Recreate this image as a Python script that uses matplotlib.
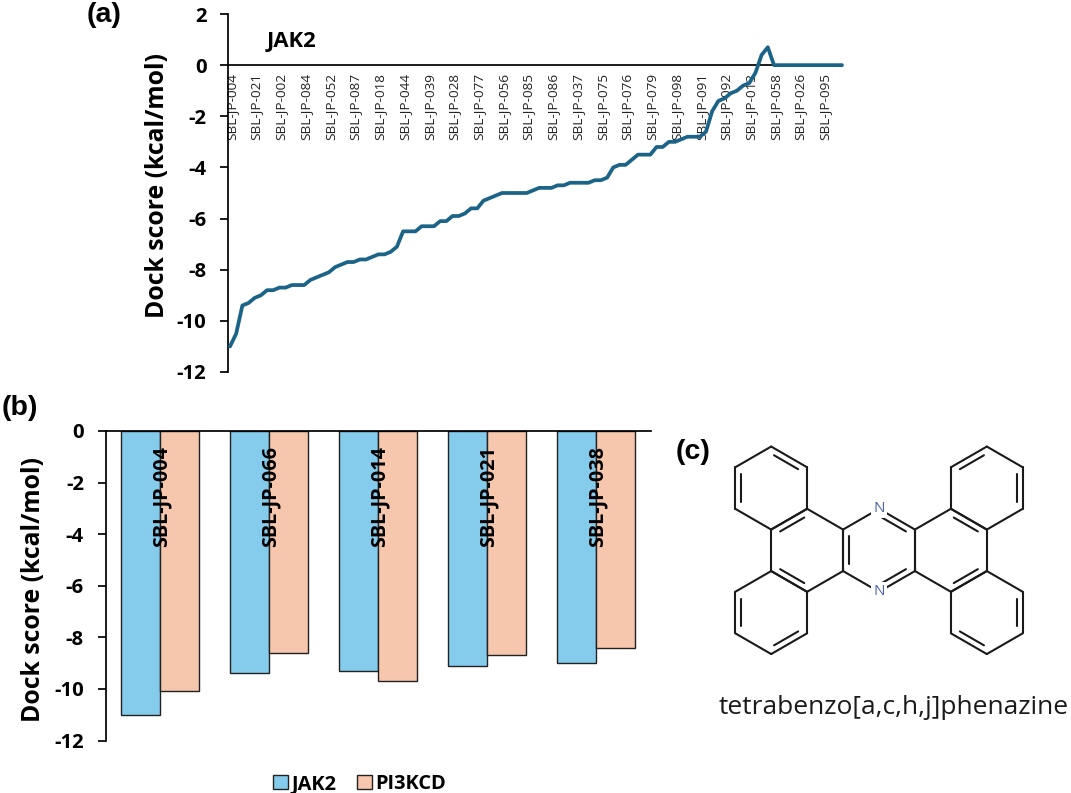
import numpy as np
import matplotlib
matplotlib.use("Agg")
import matplotlib.pyplot as plt
from matplotlib.transforms import ScaledTranslation

plt.rcParams['font.family'] = ['Open Sans', 'DejaVu Sans']
plt.rcParams['axes.unicode_minus'] = False
plt.rcParams['axes.linewidth'] = 1.25

W, H = 1071, 793

# panel (a) - dock score of every compound against JAK2
jak2_scores = [
    -11.0, -10.5, -9.4, -9.3, -9.1, -9.0, -8.8, -8.8, -8.7, -8.7,
    -8.6, -8.6, -8.6, -8.4, -8.3, -8.2, -8.1, -7.9, -7.8, -7.7,
    -7.7, -7.6, -7.6, -7.5, -7.4, -7.4, -7.3, -7.1, -6.5, -6.5,
    -6.5, -6.3, -6.3, -6.3, -6.1, -6.1, -5.9, -5.9, -5.8, -5.6,
    -5.6, -5.3, -5.2, -5.1, -5.0, -5.0, -5.0, -5.0, -5.0, -4.9,
    -4.8, -4.8, -4.8, -4.7, -4.7, -4.6, -4.6, -4.6, -4.6, -4.5,
    -4.5, -4.4, -4.0, -3.9, -3.9, -3.7, -3.5, -3.5, -3.5, -3.2,
    -3.2, -3.0, -3.0, -2.9, -2.8, -2.8, -2.8, -2.6, -1.8, -1.4,
    -1.3, -1.1, -1.0, -0.8, -0.7, -0.3, 0.4, 0.7, 0.0, 0.0,
    0.0, 0.0, 0.0, 0.0, 0.0, 0.0, 0.0, 0.0, 0.0, 0.0,
]
compound_labels = [
    'SBL-JP-004', 'SBL-JP-021', 'SBL-JP-002', 'SBL-JP-084', 'SBL-JP-052',
    'SBL-JP-087', 'SBL-JP-018', 'SBL-JP-044', 'SBL-JP-039', 'SBL-JP-028',
    'SBL-JP-077', 'SBL-JP-056', 'SBL-JP-085', 'SBL-JP-086', 'SBL-JP-037',
    'SBL-JP-075', 'SBL-JP-076', 'SBL-JP-079', 'SBL-JP-098', 'SBL-JP-091',
    'SBL-JP-092', 'SBL-JP-013', 'SBL-JP-058', 'SBL-JP-026', 'SBL-JP-095',
]

# panel (b) - top five compounds
top_compounds = ['SBL-JP-004', 'SBL-JP-066', 'SBL-JP-014', 'SBL-JP-021', 'SBL-JP-038']
top_jak2 = [-11.0, -9.4, -9.3, -9.1, -9.0]
top_pi3kcd = [-10.1, -8.6, -9.7, -8.7, -8.4]


def px_axes(fig, left, top, right, bottom):
    # axes placed from pixel edges of the image
    return fig.add_axes([left / W, 1 - bottom / H, (right - left) / W, (bottom - top) / H])


fig = plt.figure(figsize=(W / 100, H / 100), dpi=100)
# rotated labels sit a little left of the tick otherwise
nudge = ScaledTranslation(1.5 / 100, 0, fig.dpi_scale_trans)

# (a) line chart
step = 6.18
ax = px_axes(fig, 228, 14, 842, 372)
# the spine has to move first, moving it resets the tick labels
ax.spines['top'].set_visible(False)
ax.spines['right'].set_visible(False)
ax.spines['bottom'].set_position(('data', 0))
ax.plot(range(len(jak2_scores)), jak2_scores, color='#1b6488', lw=2.7,
        solid_capstyle='round', solid_joinstyle='round', clip_on=False, zorder=3)
ax.set_xlim(-2 / step, 99)
ax.set_ylim(-12, 2)
ax.set_yticks(np.arange(-12, 3, 2))
ax.set_xticks(np.arange(0, 100, 4))
ax.set_xticklabels(compound_labels, rotation=90, fontsize=9.7, va='top', ha='center', color='#222222')
ax.tick_params(axis='x', length=0, pad=5.5)
ax.tick_params(axis='y', length=6, width=1.25, labelsize=14.6, pad=9.5)
for lab in ax.get_yticklabels():
    lab.set_fontweight('bold')
for lab in ax.get_xticklabels():
    lab.set_transform(lab.get_transform() + nudge)
ax.patch.set_alpha(0)

# (b) bar chart
ax2 = px_axes(fig, 105.5, 431, 650.5, 740.5)
ax2.spines['top'].set_visible(False)
ax2.spines['right'].set_visible(False)
ax2.spines['bottom'].set_position(('data', 0))
x = np.arange(len(top_compounds))
width = 0.36
bars1 = ax2.bar(x - width / 2, top_jak2, width, color='#85cbec', edgecolor='#222222', lw=1, label='JAK2')
bars2 = ax2.bar(x + width / 2, top_pi3kcd, width, color='#f6c6ad', edgecolor='#222222', lw=1, label='PI3KCD')
ax2.set_xlim(-0.5, 4.5)
ax2.set_ylim(-12, 0)
ax2.set_yticks(np.arange(-12, 1, 2))
ax2.set_xticks(x)
ax2.set_xticklabels(top_compounds, rotation=90, fontsize=14.2, fontweight='bold', va='top', ha='center')
ax2.tick_params(axis='x', length=0, pad=11)
ax2.tick_params(axis='y', length=6, width=1.25, labelsize=14.6, pad=9.5)
for lab in ax2.get_yticklabels():
    lab.set_fontweight('bold')
for lab in ax2.get_xticklabels():
    lab.set_transform(lab.get_transform() + nudge)
ax2.patch.set_alpha(0)

fig.legend(handles=[bars1, bars2], loc='center left', bbox_to_anchor=(273 / W, 1 - 784 / H), ncol=2,
           frameon=False, prop={'weight': 'bold', 'size': 14.4}, handlelength=0.75, handleheight=0.75,
           handletextpad=0.15, columnspacing=1.05, borderpad=0, borderaxespad=0)

# overlay in pixel coordinates for the panel letters and the structure
ov = fig.add_axes([0, 0, 1, 1])
ov.set_xlim(0, W)
ov.set_ylim(H, 0)
ov.axis('off')
ov.patch.set_alpha(0)

ov.text(157, 186, 'Dock score (kcal/mol)', rotation=90, ha='center', va='center', fontsize=17.8, fontweight='bold')
ov.text(34, 589, 'Dock score (kcal/mol)', rotation=90, ha='center', va='center', fontsize=17.8, fontweight='bold')
ov.text(267, 41, 'JAK2', ha='left', va='center', fontsize=15.8, fontweight='bold')
for txt, tx, ty in [('(a)', 87, 15), ('(b)', 2, 408), ('(c)', 676, 452)]:
    ov.text(tx, ty, txt, ha='left', va='center', fontsize=20.5, fontweight='bold', family='Liberation Sans')

# tetrabenzo[a,c,h,j]phenazine on a hexagon lattice
cx, cy = 879, 550.3
bond = 41.5
dx = bond * np.cos(np.pi / 6)


def ring_centre(u, v):
    return np.array([cx + u * dx, cy + v * 1.5 * bond])


def vertex(u, v, k):
    # k = 0 is the top corner, going clockwise
    a = np.pi / 3 * k
    return ring_centre(u, v) + bond * np.array([np.sin(a), -np.cos(a)])


rings = [(0, 0), (-2, 0), (2, 0), (-3, -1), (-3, 1), (3, -1), (3, 1)]
ink = '#1a1a1a'
for u, v in rings:
    for k in range(6):
        p, q = vertex(u, v, k), vertex(u, v, k + 1)
        ov.plot([p[0], q[0]], [p[1], q[1]], color=ink, lw=1.5, solid_capstyle='round', zorder=2)

# (ring, edge) - second stroke of each double bond is drawn towards the ring centre
double_bonds = [
    (0, 0, 4), (0, 0, 0), (0, 0, 2),
    (-2, 0, 5), (-2, 0, 3), (2, 0, 0), (2, 0, 2),
    (-3, -1, 4), (-3, -1, 0), (-3, 1, 4), (-3, 1, 2),
    (3, -1, 1), (3, -1, 5), (3, 1, 1), (3, 1, 3),
]
for u, v, k in double_bonds:
    p, q = vertex(u, v, k), vertex(u, v, k + 1)
    c = ring_centre(u, v)
    p2 = p + (c - p) * 0.17 + (q - p) * 0.08
    q2 = q + (c - q) * 0.17 + (p - q) * 0.08
    ov.plot([p2[0], q2[0]], [p2[1], q2[1]], color=ink, lw=1.5, solid_capstyle='round', zorder=2)

for k in (0, 3):
    nx, ny = vertex(0, 0, k)
    ov.text(nx, ny, 'N', color='#4a62b8', fontsize=11, ha='center', va='center', zorder=3,
            bbox=dict(facecolor='white', edgecolor='none', pad=1.5))

ov.text(894, 708, 'tetrabenzo[a,c,h,j]phenazine', ha='center', va='center', fontsize=19, color='#1a1a1a')

fig.savefig('out.png', dpi=100)
